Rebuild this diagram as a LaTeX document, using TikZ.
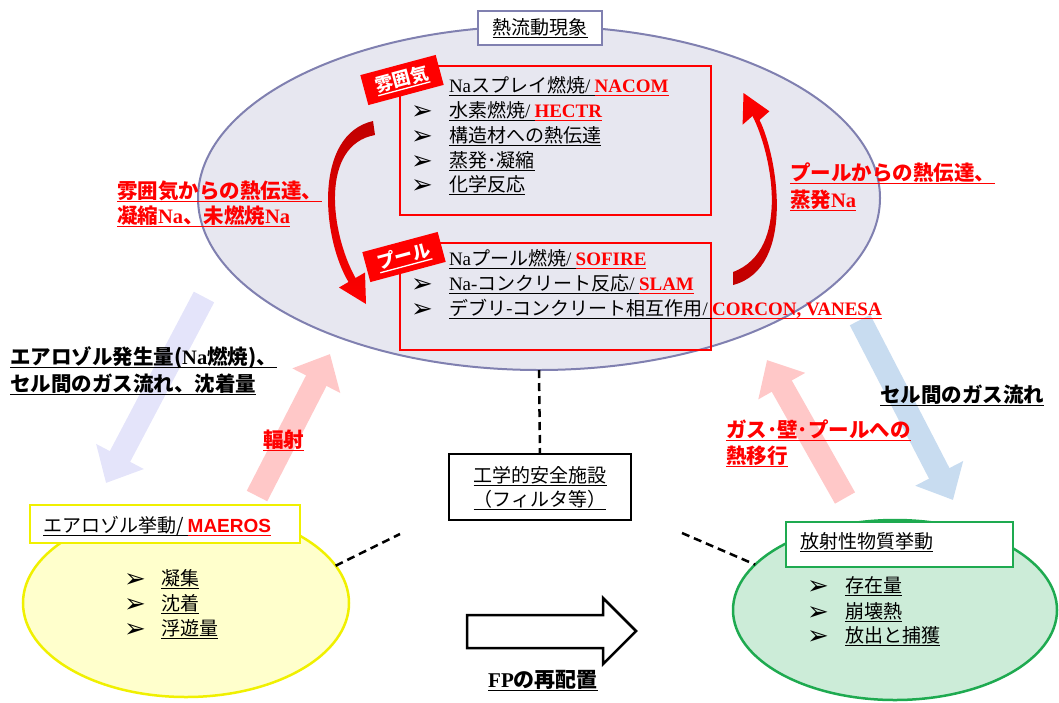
\documentclass[tikz,border=0pt]{standalone}
\usepackage{fontspec}
\setmainfont{Liberation Serif}
\newfontfamily\jp{Noto Sans CJK JP}
\newfontfamily\tm{Liberation Serif}
\newfontfamily\ar{Liberation Sans}
\newfontfamily\dv{DejaVu Sans}
\usetikzlibrary{shapes.geometric,arrows.meta}
\definecolor{ellfill}{RGB}{231,231,240}
\definecolor{elldraw}{RGB}{128,128,176}
\definecolor{dred}{RGB}{192,0,0}
\definecolor{yfill}{RGB}{255,255,204}
\definecolor{ydraw}{RGB}{240,240,0}
\definecolor{gfill}{RGB}{204,236,216}
\definecolor{gdraw}{RGB}{30,170,80}
\definecolor{lav}{RGB}{228,228,250}
\definecolor{pinkc}{RGB}{255,200,200}
\definecolor{lblue}{RGB}{200,220,240}
\newsavebox\ulb
\newcommand\ul[1]{\sbox\ulb{#1}\rlap{\vrule height -2.6pt depth 3.9pt width \wd\ulb}\usebox\ulb}
\begin{document}
\begin{tikzpicture}[x=1pt,y=-1pt,
  every node/.style={inner sep=0pt, outer sep=0pt},
  jt/.style={font=\jp\fontsize{19}{22}\selectfont, anchor=base west},
  lbl/.style={font=\jp\bfseries\fontsize{20.5}{24}\selectfont, anchor=base west},
  bul/.style={font=\dv\fontsize{26}{26}\selectfont, anchor=base west},
  bgarrow/.style={line width=23pt, -{Triangle[length=30pt,width=52pt]}},
  dashline/.style={line width=2.5pt, dash pattern=on 8pt off 5pt},
  tagbox/.style={fill=red, rotate=15, minimum width=78pt, minimum height=31pt, text=white, font=\jp\bfseries\fontsize{18}{20}\selectfont},
]
\useasboundingbox (0,0) rectangle (1059,702);

% background wide arrows
\coordinate (lavT) at (204,297); \coordinate (lavH) at (106,483);
\coordinate (pkLT) at (257,496); \coordinate (pkLH) at (330,354);
\coordinate (blT) at (860,320);  \coordinate (blH) at (953,500);
\coordinate (pkRT) at (845,498); \coordinate (pkRH) at (767,360);
\draw[bgarrow, lav] (lavT) -- (lavH);
\draw[bgarrow, pinkc] (pkLT) -- (pkLH);
\draw[bgarrow, lblue] (blT) -- (blH);
\draw[bgarrow, pinkc] (pkRT) -- (pkRH);

% big ellipse
\node[ellipse, draw=elldraw, fill=ellfill, line width=2pt, minimum width=682pt, minimum height=344pt] (bigell) at (539,198) {};
\node[draw=elldraw, fill=white, line width=1.5pt, minimum width=124pt, minimum height=34pt, font=\jp\fontsize{19}{22}\selectfont] (title) at (540,28) {\ul{熱流動現象}};

% red boxes
\node[draw=red, line width=2.5pt, minimum width=311pt, minimum height=149pt, anchor=north west] (atm) at (400,66) {};
\node[draw=red, line width=2.5pt, minimum width=311pt, minimum height=107pt, anchor=north west] (pool) at (400,243) {};

\node[bul] (b1) at (411,94) {➢};
\node[bul] (b2) at (411,119) {➢};
\node[bul] (b3) at (411,144) {➢};
\node[bul] (b4) at (411,169) {➢};
\node[bul] (b5) at (411,193) {➢};
\node[jt] (a1) at (449,92) {\ul{{\tm Na}スプレイ燃焼{\tm /} }\textcolor{red}{\ul{\tm\bfseries NACOM}}};
\node[jt] (a2) at (449,117) {\ul{水素燃焼{\tm /} }\textcolor{red}{\ul{\tm\bfseries HECTR}}};
\node[jt] (a3) at (449,142) {\ul{構造材への熱伝達}};
\node[jt] (a4) at (449,167) {\ul{蒸発･凝縮}};
\node[jt] (a5) at (449,191) {\ul{化学反応}};

\node[bul] (p2) at (411,292) {➢};
\node[bul] (p3) at (411,317) {➢};
\node[jt] (q1) at (449,265) {\ul{{\tm Na}プール燃焼{\tm /} }\textcolor{red}{\ul{\tm\bfseries SOFIRE}}};
\node[jt] (q2) at (449,290) {\ul{{\tm Na-}コンクリート反応{\tm /} }\textcolor{red}{\ul{\tm\bfseries SLAM}}};
\node[jt] (q3) at (449,315) {\ul{デブリ-コンクリート相互作用{\tm /} }\textcolor{red}{\ul{\tm\bfseries CORCON, VANESA}}};

% tags
\node[tagbox] (tagA) at (402,80) {\ul{雰囲気}};
\node[tagbox] (tagB) at (404,257) {\ul{プール}};

% curved arrows
\shade[top color=dred, middle color=red!25, bottom color=red]
  (373,121) .. controls (313,135) and (322,238) .. (348.5,282)
  -- (339,287.5) -- (366,304) -- (365,272.5) -- (355.5,278)
  .. controls (330,232) and (320,145) .. (375,135) -- cycle;
\shade[top color=red, middle color=red!25, bottom color=dred]
  (733,285) .. controls (798,268) and (776,152) .. (759.5,120)
  -- (769.4,111.3) -- (743.5,93) -- (742.6,124.7) -- (752.5,116)
  .. controls (771,152) and (792,250) .. (733,272) -- cycle;

% labels
\node[lbl, text=red] (lA1) at (117,198) {\ul{雰囲気からの熱伝達、}};
\node[lbl, text=red] (lA2) at (117,223) {\ul{凝縮{\tm\bfseries Na}、未燃焼{\tm\bfseries Na}}};
\node[lbl, text=red] (lB1) at (790,180) {\ul{プールからの熱伝達、}};
\node[lbl, text=red] (lB2) at (790,207) {\ul{蒸発{\tm\bfseries Na}}};
\node[lbl] (lC1) at (10,364) {\ul{エアロゾル発生量({\tm\bfseries Na}燃焼)、}};
\node[lbl] (lC2) at (10,391) {\ul{セル間のガス流れ、沈着量}};
\node[lbl, text=red] (lD) at (263,447) {\ul{輻射}};
\node[lbl] (lE) at (880,402) {\ul{セル間のガス流れ}};
\node[lbl, text=red] (lF1) at (726,437) {\ul{ガス･壁･プールへの}};
\node[lbl, text=red] (lF2) at (726,463) {\ul{熱移行}};

% engineering box
\node[draw, line width=2.5pt, fill=white, minimum width=182pt, minimum height=66pt] (eng) at (540,487) {};
\node[font=\jp\fontsize{19}{22}\selectfont, anchor=base] (e1) at (540,482) {\ul{工学的安全施設}};
\node[font=\jp\fontsize{19}{22}\selectfont, anchor=base] (e2) at (540,506) {\ul{（フィルタ等）}};
\draw[dashline] (bigell.south) -- (eng.north);

% yellow ellipse
\node[ellipse, draw=ydraw, fill=yfill, line width=2.5pt, minimum width=326pt, minimum height=188pt] (yell) at (186,603) {};
\node[draw=ydraw, fill=white, line width=2.5pt, minimum width=270pt, minimum height=38pt, anchor=north west] (ytitle) at (30,505) {};
\node[jt] (yt) at (43,532) {\ul{エアロゾル挙動/ }\textcolor{red}{\ul{\ar\bfseries MAEROS}}};
\node[bul] (yb1) at (124,587) {➢};
\node[bul] (yb2) at (124,612) {➢};
\node[bul] (yb3) at (124,637) {➢};
\node[jt] (y1) at (161,585) {\ul{凝集}};
\node[jt] (y2) at (161,610) {\ul{沈着}};
\node[jt] (y3) at (161,635) {\ul{浮遊量}};

% green ellipse
\node[ellipse, draw=gdraw, fill=gfill, line width=2.5pt, minimum width=324pt, minimum height=180pt] (gell) at (895,610) {};
\node[draw=gdraw, fill=white, line width=2.5pt, minimum width=227pt, minimum height=45pt, anchor=north west] (gtitle) at (786,522) {};
\node[jt] (gt) at (800,548) {\ul{放射性物質挙動}};
\node[bul] (gb1) at (807,594) {➢};
\node[bul] (gb2) at (807,620) {➢};
\node[bul] (gb3) at (807,644) {➢};
\node[jt] (g1) at (845,592) {\ul{存在量}};
\node[jt] (g2) at (845,618) {\ul{崩壊熱}};
\node[jt] (g3) at (845,642) {\ul{放出と捕獲}};

% dashed connectors
\coordinate (dl) at (400,534);
\coordinate (dr) at (682,533);
\draw[dashline] (yell.14) -- (dl);
\draw[dashline] (dr) -- (gell.162);

% FP arrow
\draw[line width=2.5pt, fill=white] (467,615) -- (603,615) -- (603,598) -- (636,631) -- (603,664) -- (603,648) -- (467,648) -- cycle;
\node[font=\jp\bfseries\fontsize{21}{24}\selectfont, anchor=base] (fp) at (543,687) {\ul{{\tm\bfseries FP}の再配置}};
\end{tikzpicture}
\end{document}
